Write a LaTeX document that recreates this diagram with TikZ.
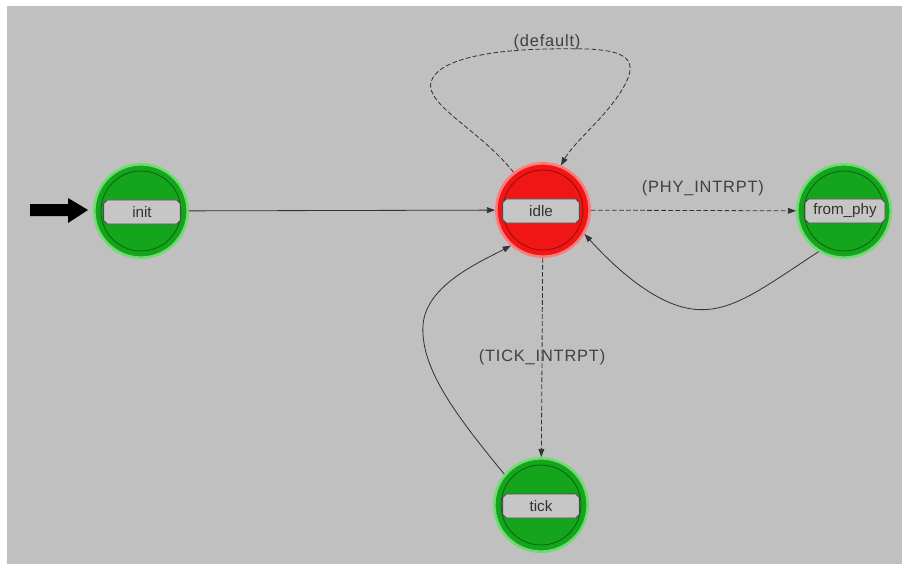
\documentclass[tikz,border=0pt]{standalone}
\usepackage{fontspec}
\setmainfont{Liberation Sans}
\usetikzlibrary{positioning,arrows.meta,calc,shapes.misc}
\definecolor{panel}{HTML}{C0C0C0}
\definecolor{boxgrey}{HTML}{C6C6C6}
\definecolor{forcedfill}{HTML}{14A51C}
\definecolor{forcedrim}{HTML}{6EDC6E}
\definecolor{forcedline}{HTML}{0A5A0E}
\definecolor{unforcedfill}{HTML}{F01616}
\definecolor{unforcedrim}{HTML}{FF7A7A}
\definecolor{unforcedline}{HTML}{8A0A0A}

\tikzset{
  state/.style={circle, minimum size=2.8cm, inner sep=0pt, line width=2.2pt},
  forced/.style={state, fill=forcedfill, draw=forcedrim},
  unforced/.style={state, fill=unforcedfill, draw=unforcedrim},
  namebox/.style={chamfered rectangle, chamfered rectangle xsep=1.5pt,
    chamfered rectangle ysep=1.5pt,
    draw=black!70, fill=boxgrey, line width=0.8pt,
    minimum width=2.3cm, minimum height=0.72cm, inner sep=1pt,
    font=\fontsize{13}{15}\selectfont, text=black!80},
  trans/.style={-{Triangle[length=7pt,width=5pt]}, line width=0.7pt, black!80},
  cond/.style={trans, dash pattern=on 4pt off 2pt},
  condlabel/.style={font=\fontsize{14}{16}\selectfont\addfontfeatures{LetterSpace=5},
    text=black!75, inner sep=1pt},
}

\begin{document}
\begin{tikzpicture}[x=0.03cm,y=-0.03cm]
% panel
\fill[white] (0,0) rectangle (906,569);
\fill[panel] (7,6) rectangle (902,564);
\useasboundingbox (0,0) rectangle (906,569);

% states
\node[forced] (init) at (141,211) {};
\node[unforced] (idle) at (543,210) {};
\node[forced] (fromphy) at (844,211) {};
\node[forced] (tick) at (541,505) {};
\foreach \s in {init,fromphy,tick}
  \draw[forcedline, line width=0.6pt] (\s) circle (40);
\draw[unforcedline, line width=0.6pt] (idle) circle (40);

% state names
\node[namebox] (initname) at (142,212) {init};
\node[namebox] (idlename) at (541,211) {idle};
\node[namebox, minimum width=2.4cm] (fromphyname) at (845,211) {from\_phy};
\node[namebox] (tickname) at (541,506) {tick};

% initial-state marker
\fill[black] (30,204) -- (68,204) -- (68,198) -- (88,210) -- (68,223) -- (68,216) -- (30,216) -- cycle;

% transitions
\draw[trans] (init) -- (idle);
\draw[cond] (idle) -- (fromphy)
  node[condlabel, pos=0.5, above=11pt, xshift=8pt] (phylabel) {(PHY\_INTRPT)};
\draw[trans] (fromphy.238) .. controls (760,290) and (730,314) .. (692,309)
  .. controls (655,304) and (615,268) .. (idle.-30);
\draw[cond] (idle) -- (tick)
  node[condlabel, pos=0.5] (ticklabel) {(TICK\_INTRPT)};
\draw[trans] (tick.140) .. controls (460,420) and (420,370) .. (423,325)
  .. controls (426,285) and (480,262) .. (idle.228);
\draw[cond] (idle.128) .. controls (480,130) and (425,105) .. (431,82)
  .. controls (438,58) and (495,50) .. (547,49)
  .. controls (600,48) and (640,48) .. (628,78)
  .. controls (615,110) and (575,140) .. (idle.68);
\node[condlabel] (deflabel) at (547,42) {(default)};
\end{tikzpicture}
\end{document}
